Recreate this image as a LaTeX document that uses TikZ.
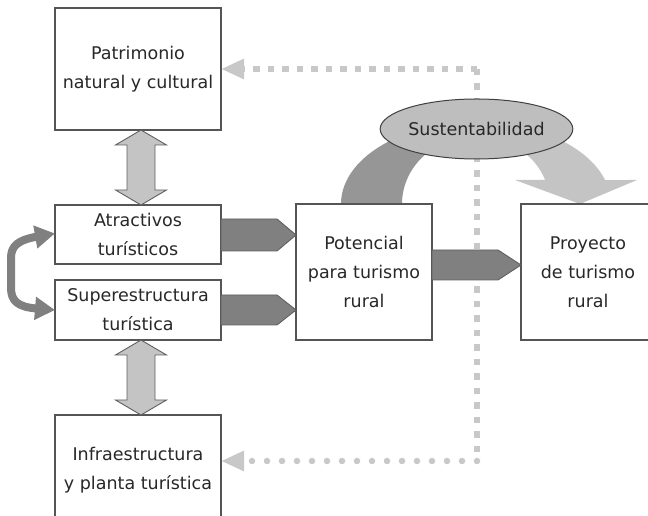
\documentclass[tikz,border=0pt]{standalone}
\usepackage{fontspec}
\setmainfont{DejaVu Sans}
\usetikzlibrary{arrows.meta,shapes.geometric,calc,backgrounds}
\definecolor{boxline}{RGB}{85,85,85}
\definecolor{txt}{RGB}{40,40,40}
\definecolor{darkfill}{RGB}{128,128,128}
\definecolor{darkline}{RGB}{95,95,95}
\definecolor{lightfill}{RGB}{196,196,196}
\definecolor{bandfill}{RGB}{150,150,150}
\definecolor{ellfill}{RGB}{190,190,190}
\definecolor{dotcol}{RGB}{200,200,200}
\definecolor{brkcol}{RGB}{128,128,128}
\newcommand\mydbl[2]{%
  \filldraw[vdblstyle] let \p1=(#1), \p2=(#2) in
  (\p1) -- ({\x1+25.5pt},{\y1-15pt}) -- ({\x1+14pt},{\y1-15pt}) -- ({\x2+14pt},{\y2+15pt})
  -- ({\x2+25.5pt},{\y2+15pt}) -- (\p2) -- ({\x2-25.5pt},{\y2+15pt}) -- ({\x2-14pt},{\y2+15pt})
  -- ({\x1-14pt},{\y1-15pt}) -- ({\x1-25.5pt},{\y1-15pt}) -- cycle;}
\newcommand\mypent[4]{%
  \filldraw[pentstyle] let \p1=(#1), \p2=(#2) in
  ({\x1},{\y1+#3}) -- ({\x2-#4},{\y1+#3}) -- ({\x2},{\y1}) -- ({\x2-#4},{\y1-#3}) -- ({\x1},{\y1-#3}) -- cycle;}
\begin{document}
\begin{tikzpicture}[x=1pt,y=1pt,
  box/.style={draw=boxline, line width=1.3pt, fill=white, inner sep=0pt, outer sep=0pt,
    align=center, text=txt, font=\fontsize{17.5}{29}\selectfont},
  vdblstyle/.style={fill=lightfill, draw=darkline, line width=0.9pt, line join=miter},
  pentstyle/.style={fill=darkfill, draw=darkline, line width=0.9pt},
  sqdots/.style={draw=dotcol, line width=6.5pt, dash pattern=on 6.5pt off 8pt},
  rddots/.style={draw=dotcol, line width=6.5pt, line cap=round, dash pattern=on 0pt off 15pt},
  dottip/.style={-{Triangle[length=23pt,width=19pt,fill=dotcol,color=dotcol]}},
  brk/.style={draw=brkcol, line width=8pt,
    {Triangle[length=20pt,width=22pt]}-{Triangle[length=20pt,width=22pt]}},
  ell/.style={ellipse, draw=black!75, fill=ellfill, line width=1pt, inner sep=0pt,
    minimum width=181pt, minimum height=60pt, text=txt, font=\fontsize{17.5}{29}\selectfont}
]
\useasboundingbox (0,0) rectangle (648,516);
\clip (0,0) rectangle (648,516);

% boxes
\node[box, minimum width=166pt, minimum height=122pt] (pat) at (138,447) {Patrimonio\\natural y cultural};
\node[box, minimum width=166pt, minimum height=59pt] (atr) at (138,281.5) {Atractivos\\turísticos};
\node[box, minimum width=166pt, minimum height=60pt] (sup) at (138,206) {Superestructura\\turística};
\node[box, minimum width=136pt, minimum height=136pt] (pot) at (364,244) {Potencial\\para turismo\\rural};
\node[box, minimum width=134pt, minimum height=136pt] (pro) at (588,244) {Proyecto\\de turismo\\rural};
\node[box, minimum width=166pt, minimum height=110pt] (inf) at (138,46) {Infraestructura\\y planta turística};
\node[ell] (sus) at (476.5,387) {Sustentabilidad};

\coordinate (jt) at (477,447);
\coordinate (jb) at (477,55);
\coordinate (a1) at ([yshift=-0.5pt]atr.east);
\coordinate (a2) at (pot.west |- a1);
\coordinate (b1) at (sup.east);
\coordinate (b2) at (pot.west |- b1);
\coordinate (c1) at ([yshift=7pt]pot.east);
\coordinate (c2) at (pro.west |- c1);
\coordinate (d1) at ([xshift=3pt]pat.south);
\coordinate (d2) at ([xshift=3pt]atr.north);
\coordinate (e1) at ([xshift=3pt]sup.south);
\coordinate (e2) at ([xshift=3pt]inf.north);
\coordinate (ib) at ([yshift=9pt]inf.east);
\coordinate (bt) at ([yshift=1pt]atr.west);

\begin{pgfonlayer}{background}
  % curved band (dark part)
  \fill[bandfill] (341,312) arc[start angle=180, end angle=90, x radius=135pt, y radius=82pt]
    -- (476,380) arc[start angle=90, end angle=180, x radius=74pt, y radius=68pt] -- cycle;
  % curved band (light part with head)
  \fill[lightfill] (476,394) arc[start angle=90, end angle=17, x radius=135pt, y radius=82pt]
    -- (637,336) -- (580,312) -- (515,336) -- (545.2,336)
    arc[start angle=20.7, end angle=90, x radius=74pt, y radius=68pt] -- cycle;
  % dotted connectors
  \draw[sqdots] (jt) -- (jb);
  \draw[sqdots, dottip] (jt) -- (pat.east);
  \draw[rddots, dottip] (jb) -- (ib);
\end{pgfonlayer}

% vertical double arrows
\mydbl{d1}{d2}
\mydbl{e1}{e2}

% pentagon arrows
\mypent{a1}{a2}{16pt}{19pt}
\mypent{b1}{b2}{15pt}{19pt}
\mypent{c1}{c2}{15pt}{23pt}

% left bracket arrow
\draw[brk] (bt) .. controls (18,276) and (11,270) .. (11,258)
  -- (11,228) .. controls (11,215) and (18,209) .. (sup.west);
\end{tikzpicture}
\end{document}
